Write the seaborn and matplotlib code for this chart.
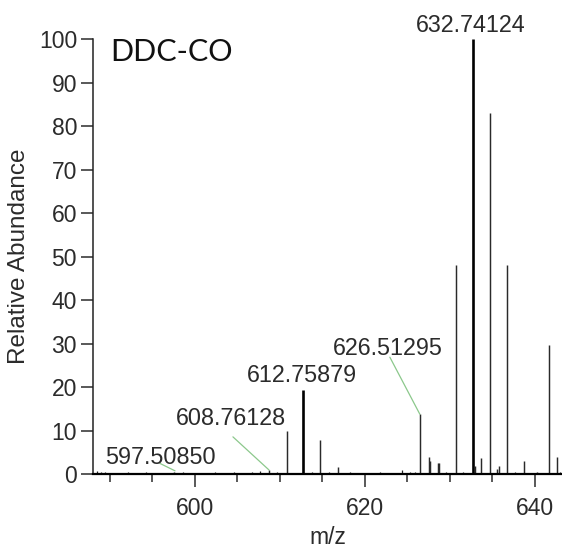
import numpy as np
import pandas as pd
import matplotlib
matplotlib.use("Agg")
import matplotlib.pyplot as plt
import seaborn as sns

# ---- data -------------------------------------------------------------
peak_mz = [597.5085, 608.76128, 610.86, 612.75879, 614.76, 616.80,
           626.51295, 627.50, 627.66, 628.55, 628.70, 630.78, 632.74124,
           632.95, 633.70, 634.70, 635.60, 635.75, 636.75, 638.75, 640.30,
           641.65, 642.60]
peak_int = [0.6, 1.0, 10.0, 19.4, 7.9, 1.6,
            13.8, 4.0, 3.0, 2.6, 2.6, 48.0, 100.0,
            2.0, 3.7, 83.0, 1.2, 2.0, 48.0, 3.1, 0.6,
            29.6, 4.0]
peak_bold = [0, 0, 0, 1, 0, 0,
             0, 0, 0, 0, 0, 0, 1,
             0, 0, 0, 0, 0, 0, 0, 0,
             0, 0]

noise_mz = [588.5, 589.0, 589.4, 590.8, 592.1, 593.0, 594.2, 596.3, 598.6,
            599.5, 601.2, 602.4, 603.3, 604.6, 605.8, 606.7, 607.6, 609.6,
            611.8, 613.8, 615.8, 618.2, 619.6, 620.9, 621.8, 623.1, 624.4,
            625.3, 625.9, 629.6, 631.6, 637.7, 639.6, 643.0]
noise_int = [0.8, 0.6, 0.5, 0.4, 0.5, 0.3, 0.6, 0.4, 0.5,
             0.3, 0.4, 0.6, 0.3, 0.5, 0.4, 0.6, 0.8, 0.5,
             0.4, 0.5, 0.6, 0.5, 0.4, 0.3, 0.5, 0.4, 1.0,
             0.6, 0.5, 0.6, 0.5, 0.6, 0.4, 0.5]

label_text = ["597.50850", "608.76128", "612.75879", "626.51295", "632.74124"]
label_x = [595.94, 604.24, 612.65, 622.68, 632.40]
label_y = [2.3, 11.3, 21.3, 27.4, 101.5]
leader_x0 = [595.88, 604.47, None, 622.94, None]
leader_y0 = [2.5, 8.6, None, 26.9, None]
leader_x1 = [597.65, 608.71, None, 626.47, None]
leader_y1 = [0.8, 1.0, None, 13.8, None]

y_ticks = list(range(0, 101, 10))
x_major = [600, 620, 640]
x_minor = [590, 595, 605, 610, 615, 625, 630, 635]

# ---- style ------------------------------------------------------------
sns.set_theme(style="ticks")
plt.rcParams['font.family'] = ['Liberation Sans', 'DejaVu Sans']

fig = plt.figure(figsize=(5.62, 5.48), dpi=100)
ax = fig.add_axes([93 / 562, 1 - 474.3 / 548, (562 - 93) / 562, (474.3 - 39) / 548])

df = pd.DataFrame({"mz": peak_mz, "inten": peak_int, "bold": peak_bold})
nz = pd.DataFrame({"mz": noise_mz, "inten": noise_int})

ax.vlines(nz.mz, 0, nz.inten, color="#222222", lw=0.9)
thin = df[df.bold == 0]
bold = df[df.bold == 1]
ax.vlines(thin.mz, 0, thin.inten, color="#2a2a2a", lw=1.05)
ax.vlines(bold.mz, 0, bold.inten, color="#000000", lw=1.9)

# leaders and labels
for t, x, y, x0, y0, x1, y1 in zip(label_text, label_x, label_y,
                                    leader_x0, leader_y0, leader_x1, leader_y1):
    if x0 is not None:
        ax.plot([x0, x1], [y0, y1], color="#8cc88c", lw=0.9, clip_on=False)
    ax.text(x, y, t, ha="center", va="baseline", fontsize=16.8,
            color="#2b2b2b", clip_on=False)

ax.text(590.0, 94.9, "DDC-CO", ha="left", va="baseline", fontsize=22,
        family=["Lato", "DejaVu Sans"], color="#111111")

ax.set_xlim(588.0, 643.2)
ax.set_ylim(0, 100)
ax.set_yticks(y_ticks)
ax.set_xticks(x_major)
ax.set_xticks(x_minor, minor=True)
ax.tick_params(axis="y", direction="out", length=8.5, width=1.1, pad=3,
               labelsize=16.5, colors="#2b2b2b")
ax.tick_params(axis="x", which="major", direction="out", length=9.5, width=1.1,
               pad=7, labelsize=16.5, colors="#2b2b2b")
ax.tick_params(axis="x", which="minor", direction="out", length=5.5, width=1.1,
               colors="#2b2b2b")
ax.set_xlabel("m/z", fontsize=16.5, color="#2b2b2b", labelpad=4)
ax.set_ylabel("Relative Abundance", fontsize=17.5, color="#2b2b2b", labelpad=6)

sns.despine(ax=ax)
ax.spines["left"].set_linewidth(1.1)
ax.spines["bottom"].set_linewidth(1.6)
ax.spines["left"].set_color("#222222")
ax.spines["bottom"].set_color("#000000")
ax.grid(False)

fig.savefig("out.png", dpi=100)
